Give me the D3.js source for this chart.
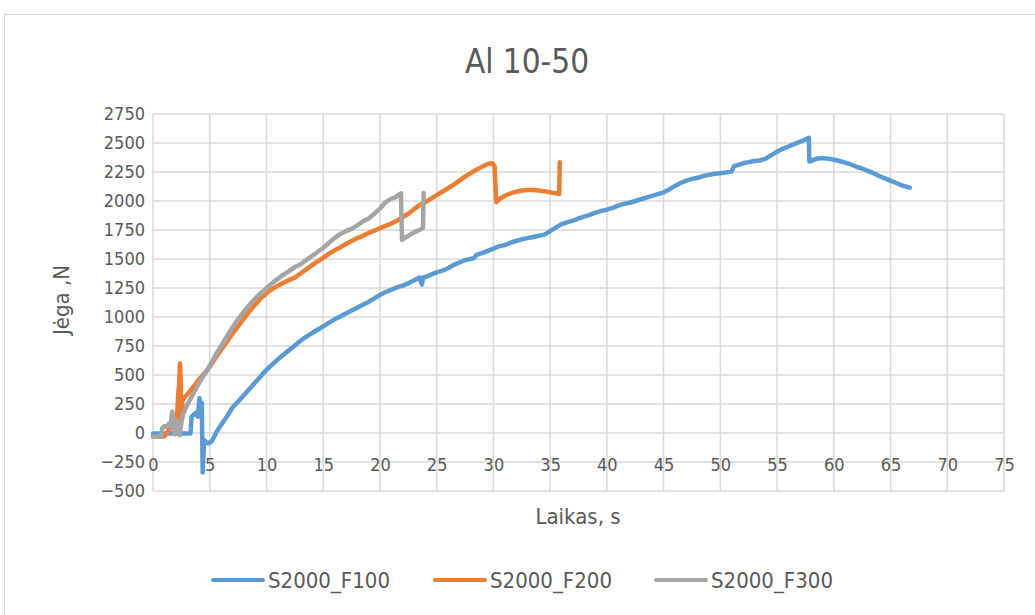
<!DOCTYPE html>
<html>
    <head>
        <title>Al 10-50</title>
        <script src="https://cdnjs.cloudflare.com/ajax/libs/d3/7.8.5/d3.min.js"></script>
        <style>
            body { margin: 0; background: #fff; }
            text { font-family: "DejaVu Sans Condensed", "Liberation Sans", sans-serif; fill: #595959; }
        </style>
    </head>

    <body>
        <svg id="canvas" width="1035" height="615"></svg>

        <script>
            // data: [time s, force N]
            var seriesNames = ["S2000_F100", "S2000_F200", "S2000_F300"]
            var seriesColors = ["#5B9BD5", "#ED7D31", "#A5A5A5"]
            var xTicks = [0, 5, 10, 15, 20, 25, 30, 35, 40, 45, 50, 55, 60, 65, 70, 75]
            var yTicks = [-500, -250, 0, 250, 500, 750, 1000, 1250, 1500, 1750, 2000, 2250, 2500, 2750]

            var f100 = [[0,-5],[1,-5],[2,-3],[3,-5],[3.3,-5],[3.4,140],[3.6,160],[3.8,175],[3.95,140],[4.1,300],[4.2,180],[4.3,260],[4.38,-340],
                [4.5,-60],[4.7,-80],[4.85,-90],[5.2,-70],[5.6,10],[6,70],[6.5,140],[7,220],[7.5,270],[8,325],[8.5,380],[9,435],[9.5,490],
                [10,545],[10.5,590],[11,635],[11.5,675],[12,715],[12.5,755],[13,795],[13.5,830],[14,860],[14.5,890],[15,920],[15.5,950],
                [16,980],[16.5,1005],[17,1030],[17.5,1055],[18,1080],[18.5,1105],[19,1130],[19.5,1160],[20,1190],[20.5,1215],[21,1235],
                [21.5,1255],[22,1270],[22.5,1290],[23,1315],[23.5,1340],[23.7,1280],[23.8,1340],[24,1345],[24.5,1365],[25,1385],[25.5,1400],
                [26,1420],[26.5,1450],[27,1470],[27.5,1490],[28,1500],[28.3,1510],[28.5,1535],[29,1550],[29.5,1570],[30,1590],[30.5,1610],
                [31,1620],[31.5,1640],[32,1655],[32.5,1670],[33,1680],[33.5,1690],[34,1700],[34.5,1710],[35,1740],[35.5,1770],[36,1800],
                [36.5,1815],[37,1830],[37.5,1850],[38,1865],[38.5,1880],[39,1900],[39.5,1915],[40,1925],[40.5,1940],[41,1960],[41.5,1975],
                [42,1985],[42.5,2000],[43,2015],[43.5,2030],[44,2045],[44.5,2060],[45,2075],[45.5,2100],[46,2130],[46.5,2155],[47,2175],
                [47.5,2190],[48,2200],[48.5,2215],[49,2225],[49.5,2235],[50,2240],[50.5,2245],[51,2255],[51.2,2300],[51.5,2310],[52,2325],
                [52.5,2335],[53,2345],[53.5,2350],[54,2365],[54.5,2395],[55,2425],[55.5,2450],[56,2470],[56.5,2490],[57,2510],[57.5,2530],
                [57.8,2545],[57.85,2340],[58.5,2365],[59,2370],[59.5,2365],[60,2355],[60.5,2345],[61,2330],[61.5,2315],[62,2295],[62.5,2280],
                [63,2260],[63.5,2240],[64,2215],[64.5,2195],[65,2175],[65.5,2155],[66,2135],[66.7,2115]]

            var f200 = [[0,-30],[0.5,-30],[1,-30],[1.3,10],[1.6,60],[1.9,130],[2.1,80],[2.2,300],[2.3,420],[2.38,600],[2.45,420],[2.5,100],
                [2.6,280],[2.8,310],[3,330],[3.5,390],[4,455],[4.5,510],[5,570],[5.5,645],[6,715],[6.5,785],[7,855],[7.5,920],[8,985],
                [8.5,1050],[9,1105],[9.5,1160],[10,1205],[10.5,1240],[11,1270],[11.5,1295],[12,1320],[12.5,1340],[13,1375],[13.5,1410],
                [14,1445],[14.5,1480],[15,1510],[15.5,1545],[16,1575],[16.5,1600],[17,1630],[17.5,1655],[18,1680],[18.5,1700],[19,1725],
                [19.5,1745],[20,1765],[20.5,1785],[21,1805],[21.5,1830],[22,1860],[22.5,1890],[23,1930],[23.5,1965],[24,1990],[24.5,2020],
                [25,2050],[25.5,2080],[26,2110],[26.5,2140],[27,2175],[27.5,2210],[28,2240],[28.5,2270],[29,2295],[29.5,2320],[29.9,2325],
                [30.1,2300],[30.25,1990],[30.6,2020],[31,2045],[31.5,2065],[32,2080],[32.5,2090],[33,2095],[33.5,2095],[34,2090],[34.5,2085],
                [35,2075],[35.8,2060],[35.85,2335]]

            var f300 = [[0,-30],[0.5,-30],[0.75,-30],[0.8,40],[1,60],[1.2,50],[1.4,80],[1.55,60],[1.7,185],[1.8,120],[1.9,-10],[2,60],
                [2.1,110],[2.2,40],[2.35,-20],[2.5,90],[2.65,160],[2.8,200],[3,240],[3.25,285],[3.5,330],[4,420],[4.5,500],[5,580],[5.5,670],
                [6,750],[6.5,830],[7,910],[7.5,980],[8,1045],[8.5,1105],[9,1160],[9.5,1205],[10,1250],[10.5,1290],[11,1330],[11.5,1365],
                [12,1395],[12.5,1430],[13,1455],[13.5,1490],[14,1525],[14.5,1560],[15,1595],[15.5,1640],[16,1680],[16.5,1715],[17,1740],
                [17.5,1760],[18,1790],[18.5,1825],[19,1850],[19.5,1890],[20,1935],[20.5,1990],[21,2020],[21.3,2030],[21.6,2050],[21.85,2065],
                [21.95,1665],[22.5,1700],[23,1730],[23.5,1750],[23.8,1770],[23.85,2070]]

            var allSeries = [f100, f200, f300]

            var svg = d3.select("#canvas");

            // chart frame
            svg.append("rect")
                .attr("x", 4.5).attr("y", 14.5)
                .attr("width", 1040).attr("height", 620)
                .attr("fill", "#fff")
                .attr("stroke", "#d9d9d9");

            // Scales
            var x = d3.scaleLinear().domain([0, 75]).range([153, 1004]);
            var y = d3.scaleLinear().domain([-500, 2750]).range([491, 114]);

            // Gridlines
            svg.append("g").selectAll("line").data(yTicks).enter().append("line")
                .attr("x1", x(0)).attr("x2", x(75))
                .attr("y1", function(d){ return y(d) }).attr("y2", function(d){ return y(d) })
                .attr("stroke", "#d9d9d9").attr("stroke-width", 1.5);
            svg.append("g").selectAll("line").data(xTicks).enter().append("line")
                .attr("x1", function(d){ return x(d) }).attr("x2", function(d){ return x(d) })
                .attr("y1", y(-500)).attr("y2", y(2750))
                .attr("stroke", "#d9d9d9").attr("stroke-width", 1.5);

            // Axes
            var fmt = d3.format("d");
            svg.append("g")
                .attr("transform", "translate(0," + y(0) + ")")
                .call(d3.axisBottom(x).tickValues(xTicks).tickFormat(fmt).tickSize(0).tickPadding(25));
            svg.append("g")
                .attr("transform", "translate(" + x(0) + ",0)")
                .call(d3.axisLeft(y).tickValues(yTicks).tickFormat(fmt).tickSize(0).tickPadding(8));
            svg.selectAll(".domain").remove();
            svg.selectAll(".tick text")
                .attr("fill", "#595959")
                .style("font-size", "18px")
                .style("font-family", null);

            // Lines
            var line = d3.line()
                .x(function(d){ return x(d[0]) })
                .y(function(d){ return y(d[1]) });

            svg.append("g").selectAll("path").data(allSeries).enter().append("path")
                .attr("d", line)
                .attr("fill", "none")
                .attr("stroke", function(d, i){ return seriesColors[i] })
                .attr("stroke-width", 4.5)
                .attr("stroke-linejoin", "round")
                .attr("stroke-linecap", "round");

            // Titles
            svg.append("text")
                .attr("x", 527).attr("y", 73)
                .attr("text-anchor", "middle")
                .style("font-size", "33px")
                .text("Al 10-50");
            svg.append("text")
                .attr("x", 578).attr("y", 524)
                .attr("text-anchor", "middle")
                .style("font-size", "22px")
                .text("Laikas, s");
            svg.append("text")
                .attr("transform", "translate(69,300) rotate(-90)")
                .attr("text-anchor", "middle")
                .style("font-size", "22px")
                .text("Jėga ,N");

            // Legend
            var legendX = [213, 435, 656];
            var legend = svg.append("g").selectAll("g").data(seriesNames).enter().append("g")
                .attr("transform", function(d, i){ return "translate(" + legendX[i] + ",580)" });
            legend.append("line")
                .attr("x1", 0).attr("x2", 50)
                .attr("stroke", function(d, i){ return seriesColors[i] })
                .attr("stroke-width", 4)
                .attr("stroke-linecap", "round");
            legend.append("text")
                .attr("x", 55).attr("y", 8)
                .style("font-size", "22px")
                .text(function(d){ return d });
        </script>
    </body>
</html>
